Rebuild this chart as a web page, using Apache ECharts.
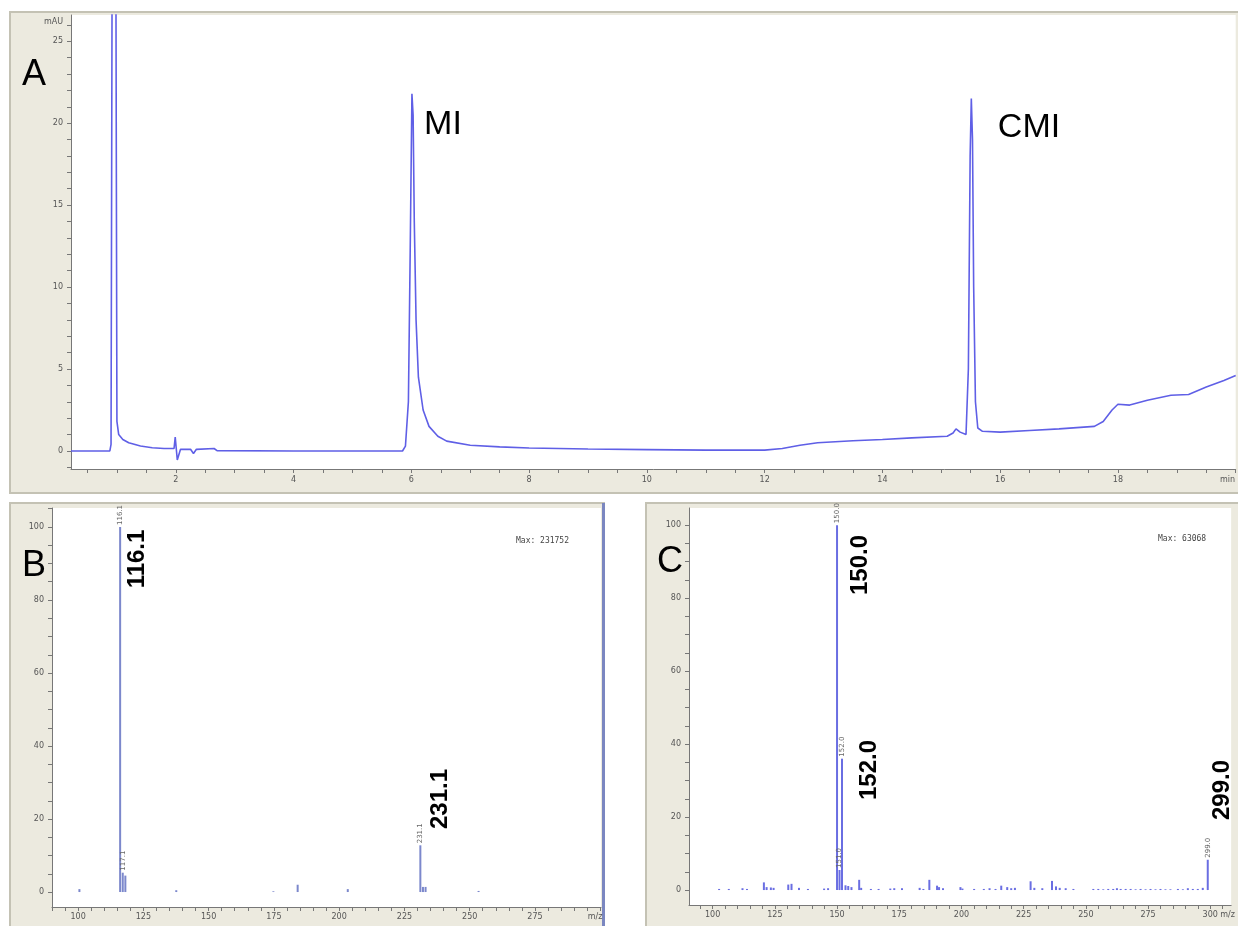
<!DOCTYPE html>
<html>
<head>
<meta charset="utf-8">
<script src="https://cdn.jsdelivr.net/npm/echarts@6/dist/echarts.min.js"></script>
<style>
html,body{margin:0;padding:0;background:#fff;}
#main{width:1238px;height:926px;}
</style>
</head>
<body>
<div id="main"></div>
<script>
// A: chromatogram (time in min, absorbance in mAU)
var timeA = [0.22,0.88,0.90,0.95,1.00,1.03,1.1,1.2,1.4,1.6,1.8,1.97,1.99,2.01,2.025,2.05,2.08,2.25,2.3,2.35,2.65,2.7,4.0,
    5.85,5.9,5.95,5.98,6.01,6.03,6.05,6.08,6.12,6.2,6.3,6.45,6.6,7.0,7.5,8.0,9.0,10.0,11.0,12.0,12.3,12.6,12.9,13.5,14.0,14.5,
    15.1,15.2,15.25,15.32,15.42,15.46,15.49,15.51,15.53,15.55,15.58,15.62,15.7,16.0,16.5,17.0,17.6,17.75,17.9,18.0,18.2,18.5,
    18.9,19.2,19.5,19.8,20.0];
var absA = [0,0,0.4,80,1.8,1.0,0.7,0.5,0.3,0.2,0.15,0.15,0.85,0.8,-0.55,-0.45,0.1,0.1,-0.15,0.1,0.15,0.02,0,
    0,0.3,3,12,21.8,20.5,14,8,4.5,2.5,1.5,0.9,0.6,0.35,0.25,0.18,0.12,0.08,0.05,0.05,0.15,0.35,0.5,0.62,0.7,0.8,
    0.9,1.1,1.35,1.15,1.0,5,18,21.5,19,10,3,1.4,1.2,1.15,1.25,1.35,1.5,1.8,2.5,2.85,2.8,3.1,
    3.4,3.45,3.9,4.3,4.6];

// B: mass spectrum of MI
var mzB  = [100.5,116.1,117.1,118.1,137.6,174.8,184.1,203.3,231.1,232.1,233.1,253.4];
var intB = [0.8,100,5.3,4.5,0.5,0.2,2.0,0.8,12.8,1.4,1.4,0.3];
var tagB = [116.1,117.1,231.1];

// C: mass spectrum of CMI
var mzC  = [102.6,106.5,112,113.8,120.6,121.7,123.4,124.5,130.4,131.7,134.7,138.3,144.8,146.4,
    150.0,151.0,152.0,153.4,154.5,155.8,158.9,159.7,163.6,166.7,171.4,173,176.1,183.2,184.7,187.1,
    190.2,191,192.6,199.6,200.4,205.1,209,211.3,213.7,216,218.4,220,221.5,227.8,229.3,232.5,236.4,
    238,239.5,241.9,245,253,255,257,259,261,262.5,264,266,268,270,272,274,276,278,280,282,284,
    287,289,291,293,295,297,299.0];
var intC = [0.3,0.3,0.5,0.3,2.1,0.8,0.7,0.6,1.5,1.7,0.6,0.3,0.4,0.5,
    100,5.5,36,1.3,1.1,0.8,2.8,0.6,0.3,0.3,0.4,0.5,0.5,0.6,0.3,2.8,
    1.2,0.8,0.5,0.8,0.4,0.3,0.3,0.5,0.3,1.2,0.8,0.5,0.6,2.4,0.6,0.5,2.5,
    1.0,0.6,0.5,0.3,0.3,0.3,0.2,0.3,0.3,0.5,0.3,0.3,0.3,0.2,0.3,0.2,0.3,0.2,0.3,0.2,0.2,
    0.3,0.2,0.5,0.3,0.3,0.6,8.3];
var tagC = [150.0,151.0,152.0,299.0];

// tick labels
var labelsA_x = [2,4,6,8,10,12,14,16,18,19.86];   // last one shows "min"
var labelsA_y = [0,5,10,15,20,25,26.15];         // last one shows "mAU"
var labelsB_x = [100,125,150,175,200,225,250,275,298];
var labelsC_x = [100,125,150,175,200,225,250,275,300,307];
var labelsMS_y = [0,20,40,60,80,100];

function steps(a, b, s){
    var r = [];
    for(var v = a; v <= b + 1e-9; v += s){ r.push(+v.toFixed(3)); }
    return r;
}

function zip(xs, ys){
    var r = [];
    for(var i = 0; i < xs.length; i++){ r.push([xs[i], ys[i]]); }
    return r;
}

var tickFont = {fontSize: 8, color: '#555', fontFamily: 'DejaVu Sans'};
var axisGray = '#777';

function axis(gridIndex, min, max, labelVals, tickVals, fmt, margin){
    return {
        type: 'value', gridIndex: gridIndex, min: min, max: max,
        splitLine: {show: false},
        axisLine: {show: true, onZero: false, lineStyle: {color: axisGray, width: 1}},
        axisTick: {show: true, length: 4, customValues: tickVals, lineStyle: {color: axisGray}},
        axisLabel: {
            customValues: labelVals, margin: margin,
            fontSize: tickFont.fontSize, color: tickFont.color, fontFamily: tickFont.fontFamily,
            formatter: fmt
        }
    };
}

function barLabel(tags){
    return {
        show: true, position: 'top', rotate: 90, align: 'left', verticalAlign: 'middle',
        distance: 2, fontSize: 7, color: '#666', fontFamily: 'DejaVu Sans',
        formatter: function(p){
            return tags.indexOf(p.value[0]) >= 0 ? p.value[0].toFixed(1) : '';
        }
    };
}

function bigText(txt, x, y, size, bold, rot){
    return {
        type: 'text', x: x, y: y, rotation: rot || 0, z: 100,
        style: {
            text: txt, fill: '#000', align: 'center', verticalAlign: 'middle',
            font: (bold ? 'bold ' : '') + size + 'px "Liberation Sans", Arial, sans-serif'
        }
    };
}

var myChart = echarts.init(document.getElementById('main'));

var option = {
    animation: false,
    backgroundColor: '#fff',
    grid: [
        {left: 71, top: 15, width: 1167, height: 454, show: true, backgroundColor: '#fff', borderWidth: 0},
        {left: 52, top: 508, width: 549, height: 399, show: true, backgroundColor: '#fff', borderWidth: 0},
        {left: 689, top: 508, width: 549, height: 397, show: true, backgroundColor: '#fff', borderWidth: 0}
    ],
    xAxis: [
        axis(0, 0.22, 20, labelsA_x, steps(0.5, 20, 0.5), function(v){ return v > 19 ? 'min' : v; }, 7),
        axis(1, 90, 300.3, labelsB_x, steps(90, 300, 5), function(v){ return v > 290 ? 'm/z' : v; }, 6),
        axis(2, 90.5, 308.4, labelsC_x, steps(95, 305, 5), function(v){ return v > 301 ? 'm/z' : v; }, 6)
    ],
    yAxis: [
        axis(0, -1.1, 26.6, labelsA_y, steps(-1, 26, 1), function(v){ return v > 26 ? 'mAU' : v; }, 8),
        axis(1, -4.1, 105.2, labelsMS_y, steps(0, 105, 5), null, 8),
        axis(2, -4.1, 104.7, labelsMS_y, steps(0, 100, 5), null, 8)
    ],
    graphic: [
        {type: 'rect', z: -10, shape: {x: 10, y: 12, width: 1240, height: 481},
            style: {fill: '#ECEADF', stroke: '#c4c2b4', lineWidth: 2}},
        {type: 'rect', z: -10, shape: {x: 10, y: 503, width: 594, height: 430},
            style: {fill: '#ECEADF', stroke: '#c4c2b4', lineWidth: 2}},
        {type: 'rect', z: -9, shape: {x: 602, y: 503, width: 3, height: 423},
            style: {fill: '#7b87c0'}},
        {type: 'rect', z: -10, shape: {x: 646, y: 503, width: 600, height: 430},
            style: {fill: '#ECEADF', stroke: '#c4c2b4', lineWidth: 2}},
        bigText('A', 34, 75, 36),
        bigText('B', 34, 566, 36),
        bigText('C', 670, 562, 36),
        bigText('MI', 443, 125, 34),
        bigText('CMI', 1029, 128, 34),
        bigText('116.1', 137, 559, 24, true, Math.PI / 2),
        bigText('231.1', 440, 799, 24, true, Math.PI / 2),
        bigText('150.0', 860, 565, 24, true, Math.PI / 2),
        bigText('152.0', 869, 770, 24, true, Math.PI / 2),
        bigText('299.0', 1222, 790, 24, true, Math.PI / 2),
        {type: 'text', x: 516, y: 541, z: 100,
            style: {text: 'Max: 231752', fill: '#444', verticalAlign: 'middle', font: '8px "DejaVu Sans Mono", monospace'}},
        {type: 'text', x: 1158, y: 539, z: 100,
            style: {text: 'Max: 63068', fill: '#444', verticalAlign: 'middle', font: '8px "DejaVu Sans Mono", monospace'}}
    ],
    series: [
        {
            name: 'A', type: 'line', xAxisIndex: 0, yAxisIndex: 0,
            data: zip(timeA, absA), showSymbol: false, symbol: 'none', clip: true,
            lineStyle: {color: '#5f5fe6', width: 1.6}
        },
        {
            name: 'B', type: 'bar', xAxisIndex: 1, yAxisIndex: 1,
            data: zip(mzB, intB), barWidth: 2,
            itemStyle: {color: '#7c88cc'}, label: barLabel(tagB)
        },
        {
            name: 'C', type: 'bar', xAxisIndex: 2, yAxisIndex: 2,
            data: zip(mzC, intC), barWidth: 2,
            itemStyle: {color: '#6a6ee2'}, label: barLabel(tagC)
        }
    ]
};

myChart.setOption(option);
</script>
</body>
</html>
